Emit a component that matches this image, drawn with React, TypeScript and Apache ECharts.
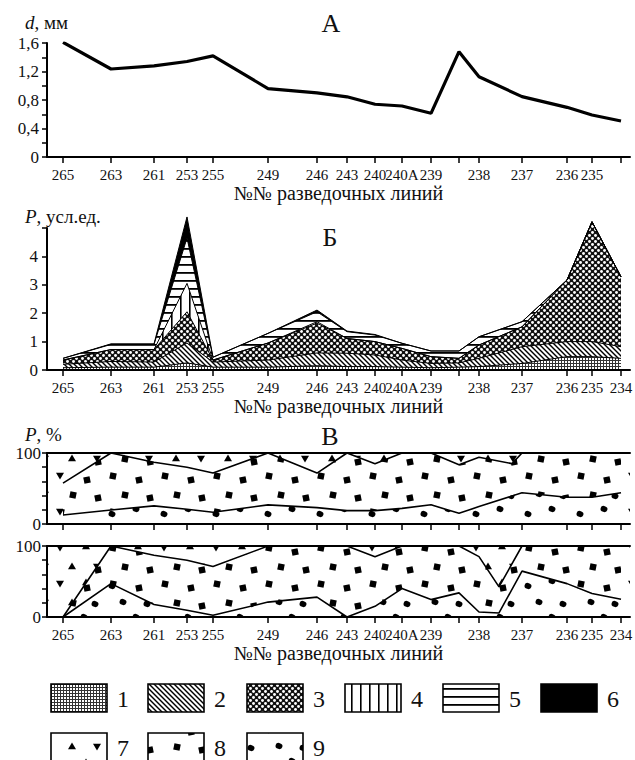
import React, { useEffect, useRef } from 'react';
import * as echarts from 'echarts';

const FONT = '"Liberation Serif", "Times New Roman", serif';

// №№ exploration lines along the section (distance positions along the profile)
const profilePos = [0, 48, 91, 124, 150, 205, 254, 284, 312, 339, 368, 396, 416, 459, 504, 529, 558];
const labelsA = ['265', '263', '261', '253', '255', '249', '246', '243', '240', '240А', '239', '', '238', '237', '236', '235', ''];
const labelsB = ['265', '263', '261', '253', '255', '249', '246', '243', '240', '240А', '239', '', '238', '237', '236', '235', '234'];
const X_MIN = -16;
const X_MAX = 567;

// Panel А: mean grain size d, mm
const grainSize = [1.61, 1.235, 1.28, 1.34, 1.42, 0.96, 0.9, 0.845, 0.74, 0.716, 0.613, 1.478, 1.127, 0.847, 0.697, 0.59, 0.505];

// Panel Б: P, conventional units, components 1..6 (stacked)
const comp1 = [0.08, 0.1, 0.1, 0.25, 0.1, 0.1, 0.15, 0.12, 0.12, 0.1, 0.08, 0.1, 0.12, 0.23, 0.47, 0.47, 0.41];
const comp2 = [0.12, 0.2, 0.18, 0.7, 0.18, 0.25, 0.45, 0.47, 0.41, 0.25, 0.15, 0.15, 0.29, 0.59, 0.53, 0.53, 0.41];
const comp3 = [0.15, 0.42, 0.44, 1.1, 0.07, 0.6, 1.05, 0.52, 0.47, 0.41, 0.24, 0.16, 0.47, 0.7, 2.17, 4.22, 2.46];
const comp4 = [0, 0, 0, 1.0, 0, 0, 0.05, 0, 0, 0, 0, 0, 0, 0, 0, 0, 0];
const comp5 = [0.06, 0.18, 0.18, 1.6, 0.1, 0.34, 0.35, 0.24, 0.23, 0.18, 0.2, 0.26, 0.29, 0.18, 0, 0, 0];
const comp6 = [0, 0.02, 0.02, 0.74, 0, 0, 0.06, 0.02, 0.02, 0, 0, 0, 0, 0, 0, 0, 0];

// Panel В (upper): cumulative %, boundary 9|8 and 8|7
const vTopLower = [12.7, 19.8, 25.5, 20.8, 16.5, 26.9, 23, 18.9, 18.9, 22, 27, 15, 24.5, 44, 37.7, 37.7, 44];
const vTopUpperPos = [0, 48, 91, 124, 150, 205, 254, 284, 312, 339, 368, 396, 416, 449, 459, 504, 529, 558];
const vTopUpper = [57.5, 100, 87, 80, 71.7, 100, 71.7, 100, 85, 100, 100, 83.5, 94, 85, 100, 100, 100, 100];

// Panel В (lower): cumulative %
const vBotPos = [0, 48, 91, 124, 150, 205, 254, 284, 312, 339, 368, 396, 416, 436, 459, 504, 529, 558];
const vBotLower = [0, 47, 17.5, 9.4, 2.4, 21, 28, 0, 15, 40, 24.5, 34, 7, 5.7, 64.6, 47, 33, 25];
const vBotUpper = [0, 100, 87, 80, 71, 100, 100, 100, 85, 100, 100, 100, 85, 42.5, 100, 100, 100, 100];
const V_TOTAL = 100;

const legendKeys = ['1', '2', '3', '4', '5', '6', '7', '8', '9'];

const xTitle = '№№ разведочных линий';

function makePattern(w: number, h: number, draw: (ctx: CanvasRenderingContext2D) => void) {
  const c = document.createElement('canvas');
  c.width = w;
  c.height = h;
  const ctx = c.getContext('2d') as CanvasRenderingContext2D;
  ctx.fillStyle = '#fff';
  ctx.fillRect(0, 0, w, h);
  ctx.fillStyle = '#000';
  ctx.strokeStyle = '#000';
  draw(ctx);
  return { image: c.toDataURL(), repeat: 'repeat', imageWidth: w, imageHeight: h } as any;
}

function tri(ctx: CanvasRenderingContext2D, cx: number, cy: number, up: boolean) {
  const s = 4;
  ctx.beginPath();
  if (up) {
    ctx.moveTo(cx - s, cy + s * 0.8);
    ctx.lineTo(cx + s, cy + s * 0.8);
    ctx.lineTo(cx, cy - s * 0.9);
  } else {
    ctx.moveTo(cx - s, cy - s * 0.8);
    ctx.lineTo(cx + s, cy - s * 0.8);
    ctx.lineTo(cx, cy + s * 0.9);
  }
  ctx.closePath();
  ctx.fill();
}

function buildPatterns() {
  const p1 = makePattern(3, 3, (ctx) => {
    ctx.fillStyle = '#333';
    ctx.fillRect(0, 0, 3, 1);
    ctx.fillRect(0, 0, 1, 3);
  });
  const p2 = makePattern(5, 5, (ctx) => {
    ctx.lineWidth = 1.4;
    for (let k = -5; k <= 5; k += 5) {
      ctx.beginPath();
      ctx.moveTo(k - 1, -1);
      ctx.lineTo(k + 6, 6);
      ctx.stroke();
    }
  });
  const p3 = makePattern(6, 6, (ctx) => {
    ctx.fillStyle = '#111';
    ctx.fillRect(0, 0, 6, 6);
    ctx.fillStyle = '#fff';
    const dots = [[1.5, 1.5], [4.5, 4.5]];
    dots.forEach(([x, y]) => {
      ctx.beginPath();
      ctx.arc(x, y, 1.45, 0, Math.PI * 2);
      ctx.fill();
    });
  });
  const p4 = makePattern(9, 9, (ctx) => {
    ctx.fillRect(0, 0, 1.6, 9);
  });
  const p5 = makePattern(8, 8, (ctx) => {
    ctx.fillRect(0, 0, 8, 1.8);
  });
  const p7 = makePattern(52, 36, (ctx) => {
    tri(ctx, 8, 8, false);
    tri(ctx, 34, 6, true);
    tri(ctx, 20, 26, true);
    tri(ctx, 45, 27, false);
  });
  const p8 = makePattern(52, 36, (ctx) => {
    const pts = [[9, 8], [35, 12], [21, 27], [46, 30]];
    pts.forEach(([x, y], i) => {
      ctx.save();
      ctx.translate(x, y);
      ctx.rotate((i % 2 ? -1 : 1) * 0.2);
      ctx.fillRect(-3.2, -3.2, 6.4, 6.4);
      ctx.restore();
    });
  });
  const p9 = makePattern(52, 36, (ctx) => {
    const pts = [[8, 10], [32, 5], [19, 26], [43, 28]];
    pts.forEach(([x, y]) => {
      ctx.beginPath();
      ctx.ellipse(x, y, 3.5, 3, 0.3, 0, Math.PI * 2);
      ctx.fill();
    });
  });
  return { p1, p2, p3, p4, p5, p6: '#000', p7, p8, p9 } as Record<string, any>;
}

const zip = (xs: number[], ys: number[]) => xs.map((x, i) => [x, ys[i]]);

export default function App() {
  const ref = useRef<HTMLDivElement>(null);

  useEffect(() => {
    if (!ref.current) return;
    const chart = echarts.init(ref.current, null, { renderer: 'svg' });
    const P = buildPatterns();
    const axisColor = '#000';

    const xAxisOf = (gridIndex: number, labels: string[] | null, nameGap: number) => ({
      type: 'value',
      gridIndex,
      min: X_MIN,
      max: X_MAX,
      position: 'bottom',
      z: 5,
      axisLine: { show: true, onZero: false, lineStyle: { color: axisColor, width: 2 } },
      axisTick: { show: true, customValues: profilePos, length: 6, lineStyle: { color: axisColor, width: 1.5 } },
      axisLabel: labels
        ? {
            show: true,
            customValues: profilePos,
            formatter: (v: number) => {
              const i = profilePos.indexOf(v);
              return i >= 0 ? labels[i] : '';
            },
            margin: 10,
            fontSize: 15,
            fontFamily: FONT,
            color: '#111',
          }
        : { show: false },
      splitLine: { show: false },
      name: labels ? xTitle : '',
      nameLocation: 'middle',
      nameGap,
      nameTextStyle: { fontSize: 20, fontFamily: FONT, color: '#111', verticalAlign: 'middle' },
    });

    const hiddenXAxis = (gridIndex: number, position = 'bottom', showLine = false) => ({
      type: 'value',
      gridIndex,
      min: X_MIN,
      max: X_MAX,
      position,
      z: 5,
      axisLine: { show: showLine, onZero: false, lineStyle: { color: axisColor, width: 2 } },
      axisTick: { show: false },
      axisLabel: { show: false },
      splitLine: { show: false },
    });

    const yAxisOf = (gridIndex: number, max: number, interval: number, fmt: (v: number) => string, margin: number) => ({
      type: 'value',
      gridIndex,
      min: 0,
      max,
      interval,
      z: 5,
      axisLine: { show: true, onZero: false, lineStyle: { color: axisColor, width: 2 } },
      axisTick: { show: true, length: 5, lineStyle: { color: axisColor, width: 1.5 } },
      axisLabel: { formatter: fmt, margin, fontSize: 17, fontFamily: FONT, color: '#111' },
      splitLine: { show: false },
    });

    const fmtA = (v: number) => {
      const t = Math.round(v * 10);
      if (t % 4 !== 0) return '';
      return t === 0 ? '0' : (t / 10).toFixed(1).replace('.', ',');
    };
    const fmtB = (v: number) => (Math.round(v) >= 5 ? '' : String(Math.round(v)));
    const fmtV = (v: number) => (v === 0 || v === 100 ? String(v) : '');

    // cumulative boundaries of the Б stack (component 1 at the bottom)
    const bComps = [comp1, comp2, comp3, comp4, comp5, comp6];
    const bPatterns = [P.p1, P.p2, P.p3, P.p4, P.p5, P.p6];
    const bCum: number[][] = [];
    bComps.forEach((vals, i) => {
      bCum.push(vals.map((v, j) => +(v + (i > 0 ? bCum[i - 1][j] : 0)).toFixed(3)));
    });

    const lineBase = {
      type: 'line',
      symbol: 'none',
      showSymbol: false,
      silent: true,
    };

    const bSeries = bCum
      .map((cum, i) => ({
        ...lineBase,
        name: 'b' + legendKeys[i],
        xAxisIndex: 1,
        yAxisIndex: 1,
        data: zip(profilePos, cum),
        lineStyle: { color: '#000', width: 1 },
        areaStyle: { color: bPatterns[i], opacity: 1 },
      }))
      .reverse();

    const series: any[] = [
      {
        ...lineBase,
        name: 'd',
        xAxisIndex: 0,
        yAxisIndex: 0,
        data: zip(profilePos, grainSize),
        lineStyle: { color: '#000', width: 3.2 },
      },
      ...bSeries,
      // Panel В upper
      {
        ...lineBase,
        name: 'v1-7',
        xAxisIndex: 2,
        yAxisIndex: 2,
        data: [[X_MIN, V_TOTAL], [X_MAX, V_TOTAL]],
        lineStyle: { width: 0, opacity: 0 },
        areaStyle: { color: P.p7, opacity: 1 },
      },
      {
        ...lineBase,
        name: 'v1-8',
        xAxisIndex: 2,
        yAxisIndex: 2,
        data: zip(vTopUpperPos, vTopUpper),
        lineStyle: { color: '#000', width: 1.6 },
        areaStyle: { color: P.p8, opacity: 1 },
      },
      {
        ...lineBase,
        name: 'v1-9',
        xAxisIndex: 2,
        yAxisIndex: 2,
        data: zip(profilePos, vTopLower),
        lineStyle: { color: '#000', width: 1.6 },
        areaStyle: { color: P.p9, opacity: 1 },
      },
      // Panel В lower
      {
        ...lineBase,
        name: 'v2-7',
        xAxisIndex: 4,
        yAxisIndex: 3,
        data: [[X_MIN, V_TOTAL], [X_MAX, V_TOTAL]],
        lineStyle: { width: 0, opacity: 0 },
        areaStyle: { color: P.p7, opacity: 1 },
      },
      {
        ...lineBase,
        name: 'v2-8',
        xAxisIndex: 4,
        yAxisIndex: 3,
        data: zip(vBotPos, vBotUpper),
        lineStyle: { color: '#000', width: 1.6 },
        areaStyle: { color: P.p8, opacity: 1 },
      },
      {
        ...lineBase,
        name: 'v2-9',
        xAxisIndex: 4,
        yAxisIndex: 3,
        data: zip(vBotPos, vBotLower),
        lineStyle: { color: '#000', width: 1.6 },
        areaStyle: { color: P.p9, opacity: 1 },
      },
    ];

    const txt = (x: number, y: number, text: string, size: number, align = 'center', extra: any = {}) => ({
      type: 'text',
      x,
      y,
      silent: true,
      z: 10,
      style: {
        text,
        fill: '#111',
        fontSize: size,
        fontFamily: FONT,
        align,
        verticalAlign: 'middle',
        ...extra,
      },
    });
    const italicRich = { rich: { i: { fontStyle: 'italic', fontSize: 19, fontFamily: FONT, fill: '#111' } } };

    const legendBoxX = [51, 148, 247, 345, 443, 541];
    const legendRowY = [684, 733];
    const legendPatterns = [P.p1, P.p2, P.p3, P.p4, P.p5, P.p6, P.p7, P.p8, P.p9];
    const legendEls: any[] = [];
    legendKeys.forEach((k, i) => {
      const row = i < 6 ? 0 : 1;
      const col = i < 6 ? i : i - 6;
      const x = legendBoxX[col];
      const y = legendRowY[row];
      const pat = legendPatterns[i];
      // anchor the scattered-marker textures to the box so whole markers show
      const fill = typeof pat === 'object' && i >= 6 ? { ...pat, x: x + 2, y: y - 1 } : pat;
      legendEls.push({
        type: 'rect',
        silent: true,
        shape: { x, y, width: 56, height: 28 },
        style: { fill, stroke: '#000', lineWidth: 1.6 },
      });
      legendEls.push(txt(x + 66, y + 15, k, 24, 'left'));
    });

    // Б: data grid extends above the axis top (peak > 5), axis grid shows 0..5
    const bUnit = 142 / 5;
    const bDataMax = 5.4;

    const option: any = {
      animation: false,
      textStyle: { fontFamily: FONT },
      grid: [
        { left: 47, top: 43, width: 583, height: 114, containLabel: false, outerBoundsMode: 'none' },
        { left: 47, top: 370 - bDataMax * bUnit, width: 583, height: bDataMax * bUnit, containLabel: false, outerBoundsMode: 'none' },
        { left: 47, top: 453, width: 583, height: 71, containLabel: false, outerBoundsMode: 'none' },
        { left: 47, top: 546, width: 583, height: 71, containLabel: false, outerBoundsMode: 'none' },
        { left: 47, top: 228, width: 583, height: 142, containLabel: false, outerBoundsMode: 'none' },
      ],
      xAxis: [
        xAxisOf(0, labelsA, 36),
        xAxisOf(1, labelsB, 33),
        xAxisOf(2, null, 0),
        hiddenXAxis(2, 'top', true),
        xAxisOf(3, labelsB, 33),
        hiddenXAxis(3, 'top', true),
        hiddenXAxis(4, 'bottom', false),
      ],
      yAxis: [
        yAxisOf(0, 1.6, 0.2, fmtA, 8),
        {
          type: 'value',
          gridIndex: 1,
          min: 0,
          max: bDataMax,
          show: false,
          splitLine: { show: false },
        },
        yAxisOf(2, 100, 20, fmtV, 6),
        yAxisOf(3, 100, 20, fmtV, 6),
        yAxisOf(4, 5, 1, fmtB, 9),
      ],
      series,
      graphic: [
        txt(331, 23, 'А', 26),
        txt(330, 237, 'Б', 26),
        txt(330, 436, 'В', 26),
        txt(25, 22, '{i|d}, мм', 19, 'left', italicRich),
        txt(25, 216, '{i|P}, усл.ед.', 19, 'left', italicRich),
        txt(25, 434, '{i|P}, %', 19, 'left', italicRich),
        ...legendEls,
      ],
    };

    chart.setOption(option);
    return () => chart.dispose();
  }, []);

  return (
    <div
      ref={ref}
      style={{ position: 'fixed', left: 0, top: 0, width: 635, height: 760, background: '#fff' }}
    />
  );
}
